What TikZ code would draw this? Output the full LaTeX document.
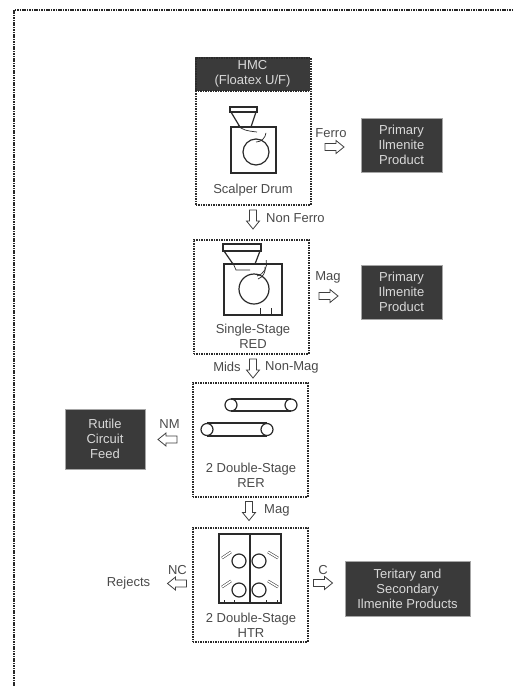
\documentclass[tikz,border=0pt]{standalone}
\usepackage{fontspec}
\setmainfont{Liberation Sans}
\definecolor{darkbox}{HTML}{3A3A3A}
\definecolor{txt}{HTML}{4A4A4A}
\definecolor{ink}{HTML}{2A2A2A}
\tikzset{
  x=1pt,y=-1pt,
  outerframe/.style={draw=black!85,line width=2pt,dash pattern=on 1.6pt off 0.8pt},
  unitbox/.style={draw=ink,line width=1.5pt,dash pattern=on 1.5pt off 1pt,anchor=north west,inner sep=0pt},
  darknode/.style={fill=darkbox,draw=gray!70,line width=0.4pt,text=white!85!black,font=\fontsize{13}{15}\selectfont,align=center,anchor=center,inner sep=0pt},
  lbl/.style={text=txt,font=\fontsize{13}{15}\selectfont,align=center,inner sep=0pt},
  blockline/.style={draw=ink!90,fill=white,line width=0.8pt},
  blk/.pic={\path[blockline] (-9.5,-3.5) -- (1.5,-3.5) -- (1.5,-6.5) -- (9.5,0) -- (1.5,6.5) -- (1.5,3.5) -- (-9.5,3.5) -- cycle;},
  eq/.style={draw=ink,line width=1.2pt,line join=miter},
  eqthin/.style={draw=ink,line width=0.7pt},
  nozzle/.style={draw=ink,line width=0.5pt,double=white,double distance=1.6pt}
}
\begin{document}
\begin{tikzpicture}
\useasboundingbox (0,0) rectangle (514,686);
% outer frame
\coordinate (fa) at (14,686);
\coordinate (fb) at (14,10);
\coordinate (fc) at (514,10);
\draw[outerframe] (fa) -- (fb) -- (fc);
% header
\node[darknode,draw=none,minimum width=115pt,minimum height=34pt] (hmc) at (252.5,74) {HMC\\(Floatex U/F)};
% unit boxes
\node[unitbox,minimum width=115pt,minimum height=147pt] (u1) at (195,57) {};
\draw[unitbox] (195,91) -- (310,91);
\node[unitbox,minimum width=115pt,minimum height=114pt] (u2) at (193,239) {};
\node[unitbox,minimum width=115pt,minimum height=114pt] (u3) at (192,382) {};
\node[unitbox,minimum width=115pt,minimum height=114pt] (u4) at (192,527) {};
% dark product boxes
\node[darknode,minimum width=81pt,minimum height=54pt] (p1) at (401.5,145) {Primary\\Ilmenite\\Product};
\node[darknode,minimum width=81pt,minimum height=54pt] (p2) at (401.5,292) {Primary\\Ilmenite\\Product};
\node[darknode,minimum width=80pt,minimum height=60pt] (rut) at (105,439) {Rutile\\Circuit\\Feed};
\node[darknode,minimum width=125pt,minimum height=55pt] (ter) at (407.5,588.5) {Teritary and\\Secondary\\Ilmenite Products};
% labels in boxes
\node[lbl] (l1) at (253,190.5) {Scalper Drum};
\node[lbl] (l2) at (253,336.5) {Single-Stage\\RED};
\node[lbl] (l3) at (251,475) {2 Double-Stage\\RER};
\node[lbl] (l4) at (251,625) {2 Double-Stage\\HTR};
% flow labels
\node[lbl,anchor=west] (t1) at (266,218) {Non Ferro};
\node[lbl] (t2) at (331,133) {Ferro};
\node[lbl] (t3) at (328,277) {Mag};
\node[lbl] (t4) at (227,367) {Mids};
\node[lbl,anchor=west] (t5) at (265,367) {Non-Mag};
\node[lbl,anchor=west] (t6) at (264,510) {Mag};
\node[lbl] (t7) at (169.5,424) {NM};
\node[lbl] (t8) at (177.5,570) {NC};
\node[lbl] (t9) at (323,570) {C};
\node[lbl] (t10) at (128.5,583) {Rejects};
% arrows
\pic at (334.5,147) {blk};
\pic[rotate=-90] at (253,219.5) {blk};
\pic at (328.5,296) {blk};
\pic[rotate=-90] at (253,368.5) {blk};
\pic[rotate=180] at (167.5,439.5) {blk};
\pic[rotate=-90] at (249,511) {blk};
\pic[rotate=180] at (177,583.5) {blk};
\pic at (323,583) {blk};
% scalper drum
\draw[eq] (230,107) rectangle (257,112);
\draw[eq] (231,112) -- (240,127) (256,112) -- (251,127);
\draw[eqthin] (238,125) .. controls (241,130) and (248,131) .. (257,132);
\draw[eq] (231,127) rectangle (276,173);
\draw[eq] (256,152) circle (13);
\draw[eqthin] (256,142) arc[start angle=90,end angle=5,radius=10];
% RED
\draw[eq] (223,244) rectangle (261,251);
\draw[eq] (224,251) -- (233,264) (260,251) -- (255,264);
\draw[eqthin] (233,263) -- (236,270) -- (250,270);
\draw[eq] (224,264) rectangle (282,315);
\draw[eq] (254,289) circle (15);
\draw[eqthin] (257,276) arc[start angle=75,end angle=-15,radius=13];
\draw[eqthin] (258,279) arc[start angle=70,end angle=-10,radius=11];
\draw[eqthin] (260,308) -- (260,315) (271,308) -- (271,315);
% RER
\draw[eq] (231,405) circle (6);
\draw[eq] (291,405) circle (6);
\draw[eq] (231,399) -- (291,399) (231,411) -- (291,411);
\draw[eq] (207,429.5) circle (6);
\draw[eq] (267,429.5) circle (6);
\draw[eq] (207,423) -- (267,423) (207,436) -- (267,436);
% HTR
\draw[eq] (219,534) rectangle (281,603);
\draw[eq] (250,534) -- (250,603);
\draw[eq] (239,561) circle (7);
\draw[eq] (259,561) circle (7);
\draw[eq] (239,590) circle (7);
\draw[eq] (259,590) circle (7);
\draw[nozzle] (222,558) -- (231,552);
\draw[nozzle] (222,587) -- (231,581);
\draw[nozzle] (268,552) -- (278,558);
\draw[nozzle] (268,581) -- (278,587);
\draw[eqthin] (224,600) -- (224,603) (234,600) -- (234,603) (266,600) -- (266,603) (277,600) -- (277,603);
\end{tikzpicture}
\end{document}
